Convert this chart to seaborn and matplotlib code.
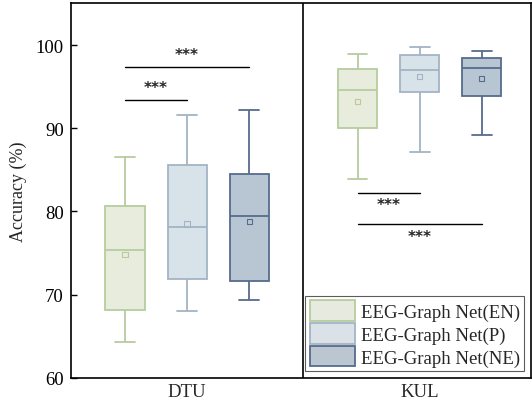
import numpy as np
import pandas as pd
import seaborn as sns
import matplotlib.pyplot as plt

# five-number summaries: [min, q1, median, q3, max]
datasets = ["DTU", "KUL"]
models = ["EEG-Graph Net(EN)", "EEG-Graph Net(P)", "EEG-Graph Net(NE)"]

dtu_en = [64.3, 68.1, 75.4, 80.6, 86.5]
dtu_p = [68.0, 71.9, 78.1, 85.6, 91.6]
dtu_ne = [69.4, 71.6, 79.4, 84.5, 92.2]
kul_en = [83.9, 90.0, 94.6, 97.1, 98.9]
kul_p = [87.2, 94.3, 97.0, 98.8, 99.8]
kul_ne = [89.2, 93.9, 97.3, 98.5, 99.3]

# means (small square markers)
dtu_means = [74.8, 78.5, 78.8]
kul_means = [93.2, 96.2, 96.0]

fills = ["#e7ecdd", "#d8e2e9", "#b8c6d4"]
edges = ["#b6cc9e", "#a3b4c5", "#566c8d"]

rows = []
for ds, boxes in zip(datasets, [[dtu_en, dtu_p, dtu_ne], [kul_en, kul_p, kul_ne]]):
    for m, vals in zip(models, boxes):
        for v in vals:
            rows.append({"dataset": ds, "model": m, "acc": v})
df = pd.DataFrame(rows)

sns.set_theme(style="ticks")
plt.rcParams["font.family"] = ["Liberation Serif", "DejaVu Serif"]

fig = plt.figure(figsize=(5.32, 4.06), dpi=100)
ax = fig.add_axes([0.133, 0.067, 0.865, 0.922])

sns.boxplot(data=df, x="dataset", y="acc", hue="model", order=datasets,
            hue_order=models, palette=fills, whis=(0, 100), width=0.8,
            gap=0.37, linewidth=1.3, ax=ax)

# seaborn 0.13 keeps one container per hue level
for k, cont in enumerate(ax.containers):
    ec = edges[k]
    for b in cont.boxes:
        b.set_edgecolor(ec)
        b.set_facecolor(fills[k])
    for art in list(cont.whiskers) + list(cont.caps) + list(cont.medians):
        art.set_color(ec)
        art.set_linewidth(1.3)

n = len(models)
offsets = [(k - 1) * 0.8 / n for k in range(n)]
for i, means in enumerate([dtu_means, kul_means]):
    for k, mv in enumerate(means):
        ax.scatter(i + offsets[k], mv, marker="s", s=14, facecolor="none",
                   edgecolor=edges[k], linewidth=0.8, zorder=5)

# significance bars
def sig(x0, x1, y, ty):
    ax.plot([x0, x1], [y, y], color="black", lw=1.0)
    ax.text((x0 + x1) / 2, ty, "***", ha="center", va="center",
            fontsize=11, fontweight="bold", family="DejaVu Sans")

sig(offsets[0], offsets[1], 93.35, 94.85)
sig(offsets[0], offsets[2], 97.4, 98.9)
sig(1 + offsets[0], 1 + offsets[1], 82.2, 80.8)
sig(1 + offsets[0], 1 + offsets[2], 78.5, 77.0)

ax.axvline(0.5, color="black", lw=1.2)

ax.set_xlim(-0.5, 1.478)
ax.set_ylim(60, 105)
ax.set_yticks([60, 70, 80, 90, 100])
ax.set_xlabel("")
ax.set_ylabel("Accuracy (%)", fontsize=13, labelpad=6)
ax.tick_params(axis="y", direction="in", length=4, width=1, labelsize=13.5,
               colors="black", pad=5)
ax.tick_params(axis="x", length=0, labelsize=13.5, pad=4)
for s in ax.spines.values():
    s.set_color("black")
    s.set_linewidth(1.2)

leg = ax.legend(loc="lower right", fontsize=13.5, frameon=True, fancybox=False,
                handlelength=2.4, handleheight=1.3, labelspacing=0.12,
                handletextpad=0.3, borderpad=0.25, borderaxespad=0.35)
leg.get_frame().set_edgecolor("#333333")
leg.get_frame().set_linewidth(0.8)
for h, ec in zip(leg.legend_handles, edges):
    h.set_edgecolor(ec)
    h.set_linewidth(1.3)

fig.savefig("out.png", dpi=100)
